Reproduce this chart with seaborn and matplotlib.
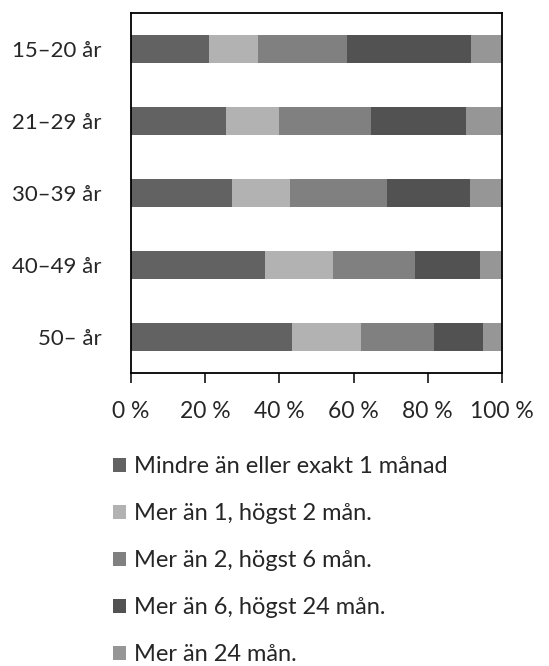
import numpy as np
import pandas as pd
import matplotlib
matplotlib.use("Agg")
import matplotlib.pyplot as plt
import seaborn as sns
from matplotlib.patches import Patch

# åldersgrupper och andelar (procent) per varaktighet
age_groups = ["15–20 år", "21–29 år", "30–39 år", "40–49 år", "50– år"]
series_names = ["Mindre än eller exakt 1 månad", "Mer än 1, högst 2 mån.",
                "Mer än 2, högst 6 mån.", "Mer än 6, högst 24 mån.", "Mer än 24 mån."]
mindre_1 = [21.0, 25.7, 27.2, 36.1, 43.4]
man_1_2 = [13.2, 14.3, 15.6, 18.3, 18.6]
man_2_6 = [23.9, 24.7, 26.2, 22.1, 19.6]
man_6_24 = [33.5, 25.6, 22.4, 17.6, 13.2]
over_24 = [8.4, 9.7, 8.6, 5.9, 5.2]
colors = ["#626262", "#b2b2b2", "#808080", "#525252", "#969696"]
xtick_labels = ["0 %", "20 %", "40 %", "60 %", "80 %", "100 %"]

sns.set_style("white")
plt.rcParams['font.family'] = ['Lato', 'DejaVu Sans']

df = pd.DataFrame({"grupp": age_groups, "s1": mindre_1, "s2": man_1_2,
                   "s3": man_2_6, "s4": man_6_24, "s5": over_24})
cols = ["s1", "s2", "s3", "s4", "s5"]
cum = df[cols].cumsum(axis=1)
cum = cum.div(cum["s5"], axis=0) * 100  # normalisera till 100 %

fig = plt.figure(figsize=(5.49, 6.66), dpi=100)
ax = fig.add_axes([131 / 549, 1 - 373 / 666, 371 / 549, 360 / 666])

# stapla genom att rita kumulativa summor bakifrån
for i in range(len(cols) - 1, -1, -1):
    sns.barplot(x=cum[cols[i]], y=df["grupp"], orient="h", color=colors[i],
                width=0.4, linewidth=0, saturation=1, ax=ax)

ax.set_xlim(0, 100)
ax.set_xticks([0, 20, 40, 60, 80, 100])
ax.set_xticklabels(xtick_labels)
ax.set_xlabel("")
ax.set_ylabel("")
for s in ax.spines.values():
    s.set_visible(True)
    s.set_color("black")
    s.set_linewidth(1.3)
ax.tick_params(axis="x", length=7, width=1.3, direction="out", bottom=True, pad=13, labelsize=16.5)
ax.tick_params(axis="y", length=0, pad=21, labelsize=16)

handles = [Patch(facecolor=c, edgecolor="none") for c in colors]
fig.legend(handles, series_names, loc="upper left", bbox_to_anchor=(92 / 549, 1 - 435 / 666),
           frameon=False, fontsize=17, handlelength=0.55, handleheight=0.55,
           handletextpad=0.35, labelspacing=1.1)

fig.savefig("out.png", dpi=100)
